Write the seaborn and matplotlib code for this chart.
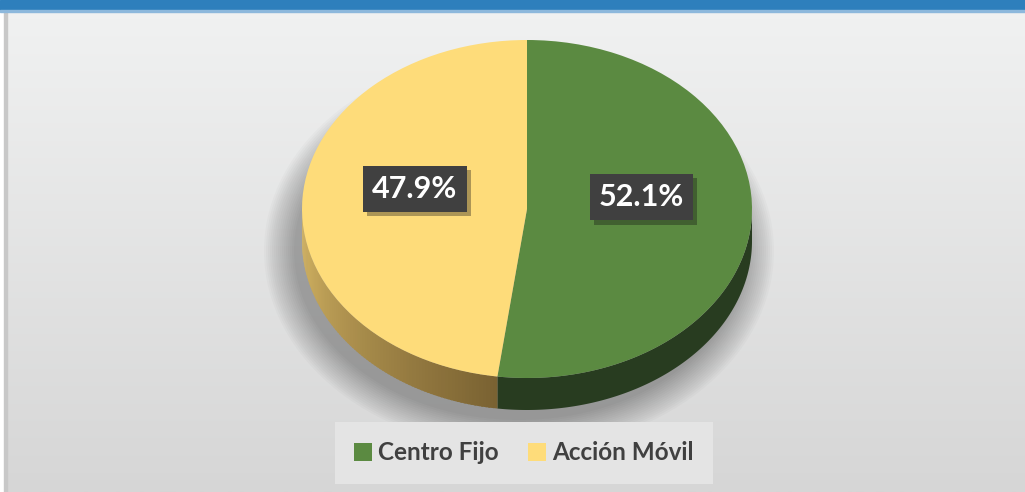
import numpy as np
import matplotlib
matplotlib.use("Agg")
import matplotlib.pyplot as plt
import matplotlib.patheffects as pe
from matplotlib.patches import Rectangle, Ellipse
from matplotlib.colors import to_rgb
import seaborn as sns

# data
labels = ["Centro Fijo", "Acción Móvil"]
values = [52.1, 47.9]
top_colors = ["#5B8A41", "#FEDC7A"]
side_colors = [("#283C20", "#283C20"), ("#7A6232", "#D8B865")]

sns.set_style("white")
plt.rcParams['font.family'] = ['Lato', 'DejaVu Sans']

W, H = 1025, 492
fig = plt.figure(figsize=(W / 100, H / 100), dpi=100)

# background panel with vertical gradient
bg = fig.add_axes([0, 0, 1, 1])
grad = np.linspace(0, 1, 256)[:, None]
top_c = np.array(to_rgb("#F1F2F2"))
bot_c = np.array(to_rgb("#D6D6D6"))
img = top_c[None, None, :] * (1 - grad[..., None]) + bot_c[None, None, :] * grad[..., None]
bg.imshow(img, aspect="auto", extent=[0, W, H, 0])
bg.set_xlim(0, W)
bg.set_ylim(H, 0)
bg.axis("off")
bg.add_patch(Rectangle((0, 0), 4, H, color="white", zorder=3))
bg.add_patch(Rectangle((4, 0), 3, H, color="#C8C8C8", zorder=3))
bg.add_patch(Rectangle((0, 0), W, 10, color="#2E7FBC", zorder=4))
bg.add_patch(Rectangle((0, 10), W, 2, color="#8DB8DC", zorder=4))

# soft shadow under the pie (mostly below / left)
cx, cy, rx, ry, depth = 527, 209, 225, 169, 32
for k in range(16):
    bg.add_patch(Ellipse((cx - 8, cy + 42), 2 * rx + 4 * k, 2 * ry + 4 * k,
                         color="black", alpha=0.02, lw=0, zorder=1))

# pie axes: unit pie stretched into an ellipse
d = depth / ry
left = (cx - rx) / W
bottom = (H - (cy + ry + depth)) / H
ax = fig.add_axes([left, bottom, 2 * rx / W, (2 * ry + depth) / H])
ax.set_xlim(-1, 1)
ax.set_ylim(-1 - d, 1)
ax.axis("off")

# side wall (front half) built from the same slice angles
fr = np.array(values) / sum(values)
edges = np.concatenate([[0], np.cumsum(fr)]) * 360  # clockwise from top
for i in range(len(values)):
    a0, a1 = edges[i], edges[i + 1]
    lo, hi = max(a0, 90), min(a1, 270)
    if hi <= lo:
        continue
    c0, c1 = np.array(to_rgb(side_colors[i][0])), np.array(to_rgb(side_colors[i][1]))
    if side_colors[i][0] == side_colors[i][1]:
        t = np.radians(np.linspace(lo, hi, 200))
        xs, ys = np.sin(t), np.cos(t)
        ax.fill(np.r_[xs, xs[::-1]], np.r_[ys, ys[::-1] - d], color=c0, lw=0)
        continue
    n = 90
    step = (hi - lo) / n
    for j in range(n):
        t = np.radians(np.linspace(lo + j * step, min(hi, lo + (j + 1.6) * step), 6))
        xs, ys = np.sin(t), np.cos(t)
        f = j / (n - 1)
        col = c0 * (1 - f) + c1 * f
        ax.fill(np.r_[xs, xs[::-1]], np.r_[ys, ys[::-1] - d], color=col, lw=0)

wedges, _, autotexts = ax.pie(values, colors=top_colors, startangle=90, counterclock=False,
                              autopct="%1.1f%%", pctdistance=0.52, radius=1,
                              wedgeprops=dict(linewidth=0),
                              textprops=dict(color="white", fontsize=22, fontweight="bold"))
ax.set_aspect("auto")
ax.set_xlim(-1, 1)
ax.set_ylim(-1 - d, 1)
for t in autotexts:
    t.set_bbox(dict(boxstyle="square,pad=0.3", fc="#404040", ec="none"))
    t.get_bbox_patch().set_path_effects([pe.SimplePatchShadow(offset=(3, -3), alpha=0.35), pe.Normal()])
autotexts[0].set_position((autotexts[0].get_position()[0] - 0.01, 0.07))
autotexts[1].set_position((autotexts[1].get_position()[0] + 0.02, 0.12))

leg = bg.legend(wedges, labels, loc="center", bbox_to_anchor=(524, 453), bbox_transform=bg.transData,
                ncol=2, frameon=True, fancybox=False, handlelength=0.75, handleheight=0.75,
                handletextpad=0.25, columnspacing=1.2, borderpad=0.8,
                prop=dict(size=17.5, weight="bold"), labelcolor="#404040")
leg.get_frame().set_facecolor("#E4E4E4")
leg.get_frame().set_edgecolor("none")
leg.get_frame().set_alpha(1)

fig.savefig("out.png", dpi=100)
